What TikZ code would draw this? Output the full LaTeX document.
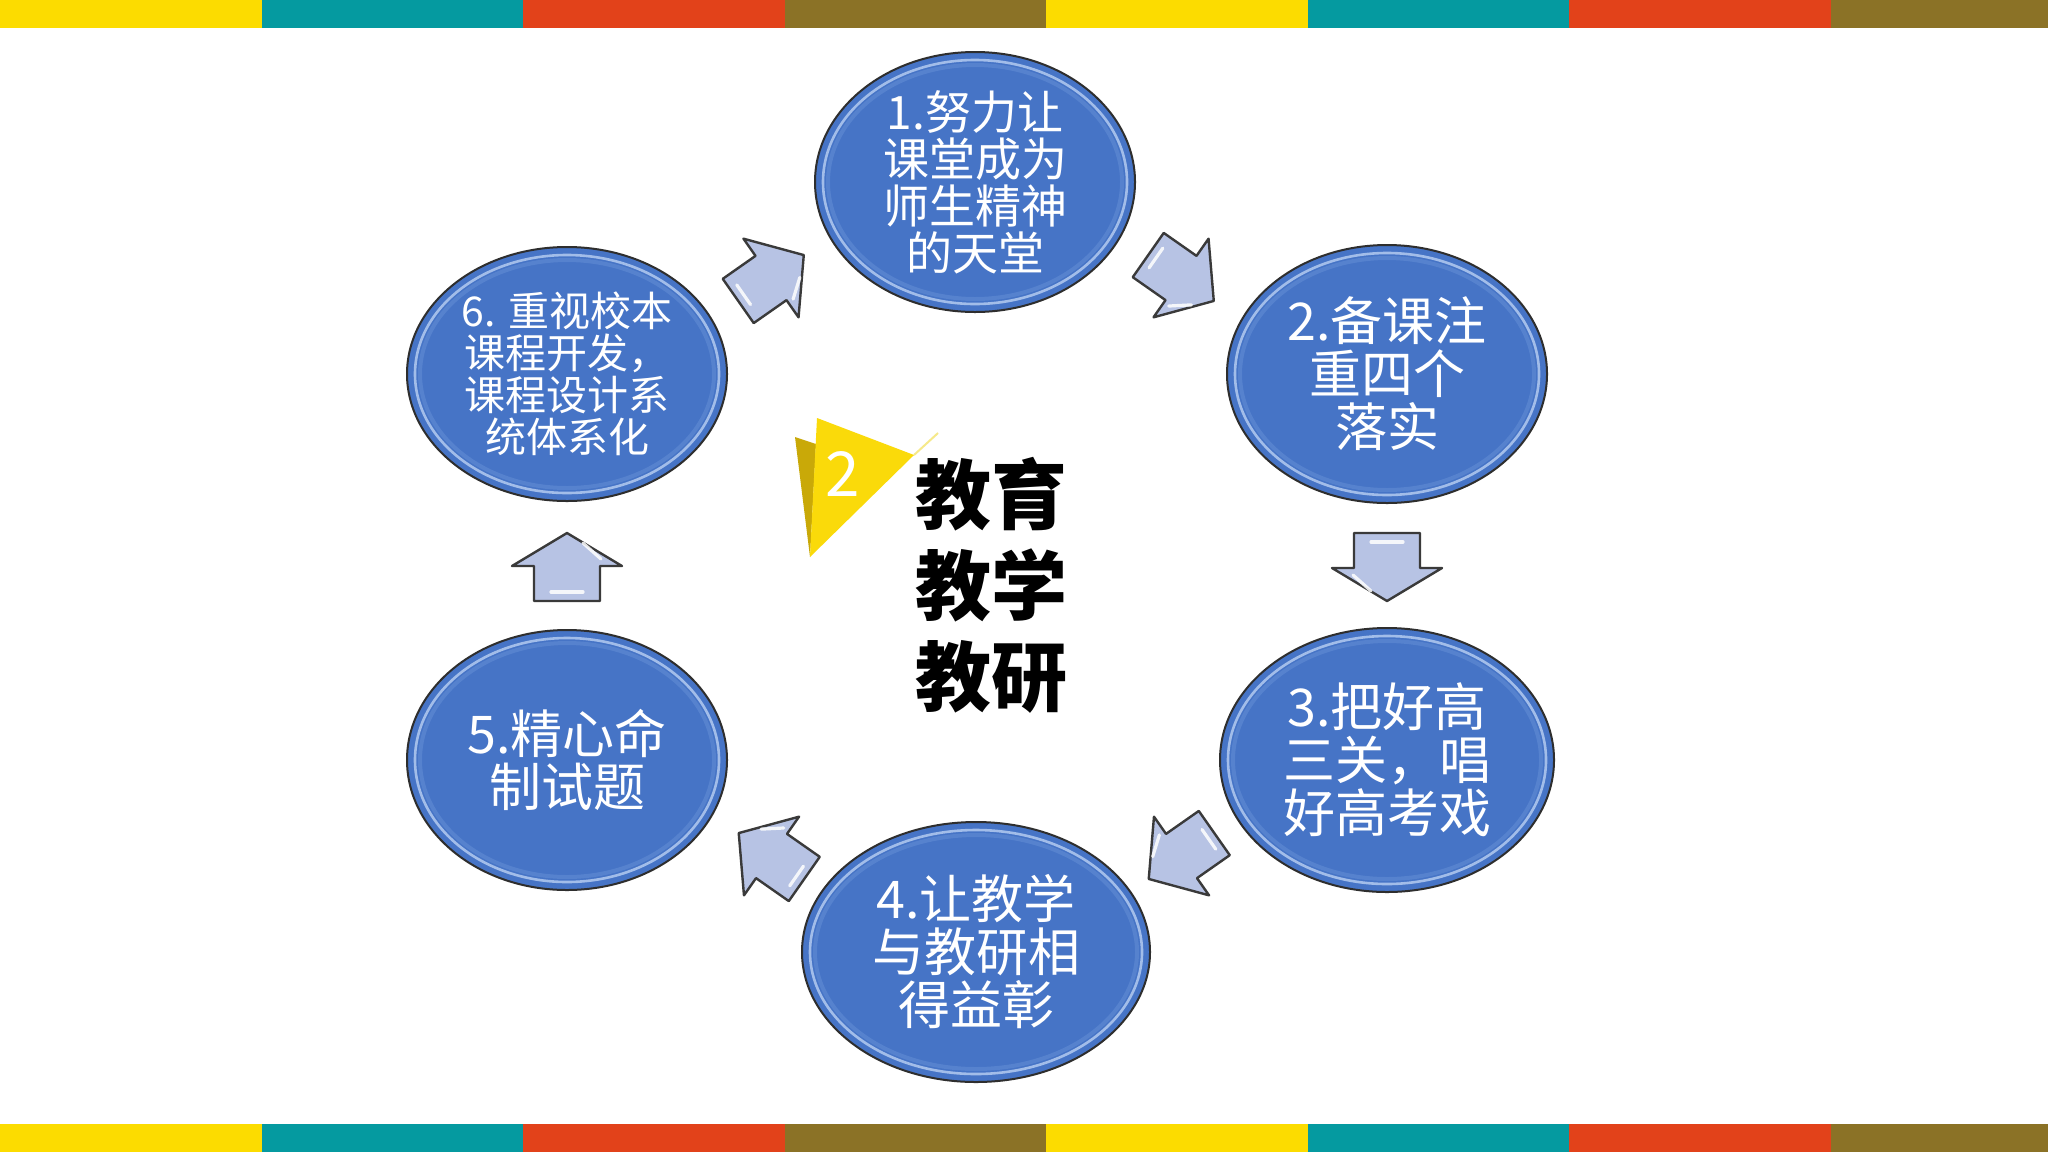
\documentclass[tikz,border=0pt]{standalone}
\usepackage{fontspec}
\newfontfamily\cjk{Noto Sans CJK SC}
\usetikzlibrary{calc,shapes.geometric}
\definecolor{barY}{HTML}{FCDC00}
\definecolor{barT}{HTML}{059AA0}
\definecolor{barR}{HTML}{E2421A}
\definecolor{barO}{HTML}{8B7226}
\definecolor{bubbleblue}{HTML}{4674C6}
\definecolor{bubbleline}{HTML}{2E2E2E}
\definecolor{rimlight}{HTML}{C2D6F6}
\definecolor{rimmid}{HTML}{5D88D2}
\definecolor{arrowfill}{HTML}{B7C3E4}
\definecolor{arrowline}{HTML}{3A3A3A}
\definecolor{triY}{HTML}{FADA0A}
\definecolor{triD}{HTML}{C9A908}
\definecolor{triL}{HTML}{F6E98A}
\tikzset{
  bubble/.style={ellipse, fill=bubbleblue, draw=bubbleline, line width=1pt,
    text=white, align=center, inner sep=0pt},
  bigtext/.style={font=\cjk\fontsize{26pt}{26.5pt}\selectfont},
  rimA/.style={draw=rimlight, line width=1.3pt, opacity=0.75},
  rimB/.style={draw=rimmid, line width=2pt, opacity=0.7},
  flowarr/.style={fill=arrowfill, draw=arrowline, line width=1.2pt, line join=round},
  gloss/.style={draw=white, line width=1.6pt, line cap=round, opacity=0.85},
  bar/.style={draw=none},
}
% rim highlight for a bubble: name, half width (pt), half height (pt)
\newcommand\bubblerim[3]{%
  \draw[rimA] (#1.center) ellipse [x radius=#2pt-4pt, y radius=#3pt-4pt];
  \draw[rimB] (#1.center) ellipse [x radius=#2pt-6.5pt, y radius=#3pt-6.5pt];
}
% diagonal block arrow between two bubbles
\newcommand\diagarrow[3]{%
  \coordinate (m#1#2) at ($(#1)!0.5!(#2)$);
  \begin{scope}[shift={(m#1#2)}, rotate=#3]
    \draw[flowarr] (-40,-27) -- (0,-27) -- (0,-48) -- (40,0) -- (0,48) -- (0,27) -- (-40,27) -- cycle;
    \draw[gloss] (-32,-14) -- (-32,10);
    \draw[gloss] (6,30) -- (24,16);
  \end{scope}
}
% straight (vertical) block arrow between two bubbles
\newcommand\vertarrow[3]{%
  \coordinate (m#1#2) at ($(#1)!0.5!(#2)$);
  \begin{scope}[shift={(m#1#2)}, rotate=#3]
    \draw[flowarr] (-34,-33) -- (1,-33) -- (1,-55) -- (34,0) -- (1,55) -- (1,33) -- (-34,33) -- cycle;
    \draw[gloss] (-25,-16) -- (-25,16);
    \draw[gloss] (8,34) -- (24,16);
  \end{scope}
}
\begin{document}
\begin{tikzpicture}[x=0.5pt,y=-0.5pt]
\useasboundingbox (0,0) rectangle (2048,1152);
\fill[white] (0,0) rectangle (2048,1152);
% colour bars
\foreach \c [count=\i from 0] in {barY,barT,barR,barO,barY,barT,barR,barO}{
  \fill[\c] (\i*261.5,0) rectangle (\i*261.5+262,28);
  \fill[\c] (\i*261.5,1124) rectangle (\i*261.5+262,1152);
}
% bubbles
\node[bubble, minimum width=160pt, minimum height=130pt,
  font=\cjk\fontsize{23pt}{23.5pt}\selectfont] (e1) at (975,182)
  {1.努力让\\课堂成为\\师生精神\\的天堂};
\node[bubble, bigtext, minimum width=160pt, minimum height=129pt] (e2) at (1387,374)
  {2.备课注\\重四个\\落实};
\node[bubble, bigtext, minimum width=167pt, minimum height=132pt] (e3) at (1387,760)
  {3.把好高\\三关，唱\\好高考戏};
\node[bubble, bigtext, minimum width=174pt, minimum height=130pt] (e4) at (976,952)
  {4.让教学\\与教研相\\得益彰};
\node[bubble, bigtext, minimum width=160pt, minimum height=130pt] (e5) at (567,760)
  {5.精心命\\制试题};
\node[bubble, minimum width=160pt, minimum height=127pt,
  font=\cjk\fontsize{20.5pt}{21pt}\selectfont] (e6) at (567,374)
  {6. 重视校本\\课程开发，\\课程设计系\\统体系化};
\bubblerim{e1}{80}{65}
\bubblerim{e2}{80}{64.5}
\bubblerim{e3}{83.5}{66}
\bubblerim{e4}{87}{65}
\bubblerim{e5}{80}{65}
\bubblerim{e6}{80}{63.5}
% arrows between bubbles
\diagarrow{e6}{e1}{35}
\diagarrow{e1}{e2}{-35}
\vertarrow{e2}{e3}{-90}
\diagarrow{e3}{e4}{-145}
\diagarrow{e4}{e5}{145}
\vertarrow{e5}{e6}{90}
% centre emblem
\fill[triD] (795,437) -- (816,444) -- (810,557) -- cycle;
\fill[triY] (817,418) -- (914,455) -- (810,557) -- cycle;
\draw[triL, line width=1pt] (914,455) -- (938,433);
\node[font=\cjk\fontsize{31pt}{31pt}\selectfont, text=white] (num) at (843,474) {2};
\node[font=\cjk\bfseries\fontsize{38pt}{45.5pt}\selectfont, align=center] (title) at (991,585)
  {教育\\教学\\教研};
\end{tikzpicture}
\end{document}
